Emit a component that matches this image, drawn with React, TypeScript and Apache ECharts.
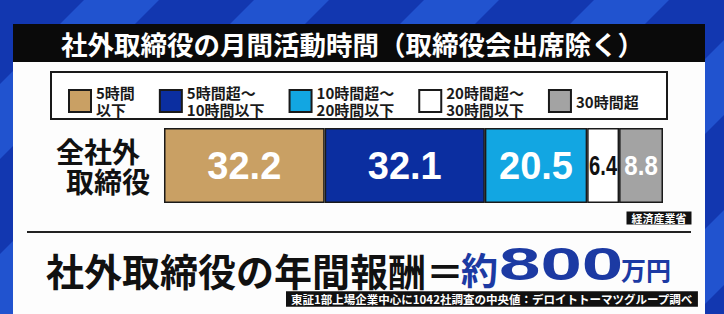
import React, { useEffect, useRef } from 'react';
import * as echarts from 'echarts';

const categories = ['全社外\n取締役'];
const seriesNames = [
  '5時間\n以下',
  '5時間超～\n10時間以下',
  '10時間超～\n20時間以下',
  '20時間超～\n30時間以下',
  '30時間超',
];
const values = [32.2, 32.1, 20.5, 6.4, 8.8];
const narrowIdx = [3, 4];

const title = '社外取締役の月間活動時間（取締役会出席除く）';
const source = '経済産業省';
const headline = '社外取締役の年間報酬＝';
const headlineBlue = '約';
const amount = '800';
const unit = '万円';
const footnote = '東証1部上場企業中心に1042社調査の中央値：デロイトトーマツグループ調べ';

const colors = ['#c9a064', '#0b2ea0', '#12a6e2', '#ffffff', '#a3a3a3'];
const labelColors = ['#ffffff', '#ffffff', '#ffffff', '#111111', '#ffffff'];
const narrowScale = [0, 0, 0, 0.72, 0.86];
const CJK = '"Noto Sans CJK JP", "Noto Sans", sans-serif';
const LAT = '"Liberation Sans", Arial, sans-serif';

export default function App() {
  const ref = useRef<HTMLDivElement>(null);
  useEffect(() => {
    if (!ref.current) return;
    const chart = echarts.init(ref.current, undefined, { renderer: 'svg' });

    const starts: number[] = [];
    let acc = 0;
    values.forEach((v) => {
      starts.push(acc);
      acc += v;
    });

    const stripes: any[] = [];
    for (let x0 = -400; x0 < 760; x0 += 170) {
      stripes.push({
        type: 'polygon',
        z: -20,
        shape: { points: [[x0, 314], [x0 + 75, 314], [x0 + 75 + 314, 0], [x0 + 314, 0]] },
        style: { fill: '#2153cf' },
        silent: true,
      });
    }

    const barSeries = values.map((v, i) => ({
      type: 'bar',
      name: seriesNames[i],
      stack: 'total',
      data: [v],
      barWidth: 75,
      itemStyle: { color: colors[i], borderColor: '#1a1a1a', borderWidth: 1.5 },
      label: {
        show: !narrowIdx.includes(i),
        position: 'inside',
        formatter: () => v.toFixed(1),
        color: labelColors[i],
        fontSize: 38,
        fontWeight: 'bold',
        fontFamily: LAT,
      },
      emphasis: { disabled: true },
    }));

    const customSeries = {
      type: 'custom',
      coordinateSystem: 'cartesian2d',
      silent: true,
      z: 10,
      data: narrowIdx.map((i) => [starts[i] + values[i] / 2, 0, i]),
      renderItem: (_params: any, api: any) => {
        const idx = api.value(2);
        const p = api.coord([api.value(0), 0]);
        return {
          type: 'text',
          x: p[0],
          y: p[1],
          scaleX: narrowScale[idx],
          style: {
            text: values[idx].toFixed(1),
            fill: labelColors[idx],
            fontSize: 28,
            fontWeight: 'bold',
            fontFamily: LAT,
            align: 'center',
            verticalAlign: 'middle',
          },
        };
      },
    };

    const option: any = {
      animation: false,
      backgroundColor: '#1237b0',
      grid: { left: 164, right: 61, top: 128, height: 75, containLabel: false, outerBoundsMode: 'none' },
      xAxis: { type: 'value', min: 0, max: 100, show: false },
      yAxis: {
        type: 'category',
        data: categories,
        axisLine: { show: false },
        axisTick: { show: false },
        splitLine: { show: false },
        axisLabel: {
          margin: 14,
          align: 'right',
          formatter: (v: string) => {
            const [a, b] = v.split('\n');
            return `{a|${a}}\n{b|${b}}`;
          },
          rich: {
            a: { fontSize: 28, fontWeight: 'bold', color: '#111', fontFamily: CJK, lineHeight: 30, padding: [0, 10, 0, 0] },
            b: { fontSize: 28, fontWeight: 'bold', color: '#111', fontFamily: CJK, lineHeight: 30 },
          },
        },
      },
      legend: {
        data: seriesNames,
        left: 63,
        top: 79,
        z: 5,
        itemWidth: 22,
        itemHeight: 22,
        itemGap: 24,
        icon: 'rect',
        selectedMode: false,
        itemStyle: { borderColor: '#1a1a1a', borderWidth: 2 },
        textStyle: { fontSize: 15, fontWeight: 'bold', color: '#1a1a1a', fontFamily: CJK, lineHeight: 17 },
      },
      graphic: [
        ...stripes,
        { type: 'rect', z: -10, shape: { x: 13, y: 24, width: 692, height: 290 }, style: { fill: '#fdfdfd' }, silent: true },
        { type: 'rect', z: -9, shape: { x: 13, y: 24, width: 692, height: 38 }, style: { fill: '#0a0a0a' }, silent: true },
        {
          type: 'text', z: -8, x: 61, y: 43,
          style: { text: title, fill: '#ffffff', fontSize: 26.5, fontWeight: 'bold', fontFamily: CJK, align: 'left', verticalAlign: 'middle' },
        },
        { type: 'rect', z: -8, shape: { x: 51, y: 72, width: 616, height: 47 }, style: { fill: '#ffffff', stroke: '#1a1a1a', lineWidth: 2 }, silent: true },
        {
          type: 'text', z: 1, x: 659, y: 218,
          style: { text: source, fill: '#ffffff', fontSize: 11, fontWeight: 'bold', fontFamily: CJK, align: 'center', verticalAlign: 'middle', backgroundColor: '#111111', padding: [1, 5] },
        },
        { type: 'line', z: 1, shape: { x1: 27, y1: 232, x2: 691, y2: 232 }, style: { stroke: '#222222', lineWidth: 2 } },
        {
          type: 'text', z: 1, x: 46, y: 269,
          style: { text: headline, fill: '#111111', fontSize: 38, fontWeight: 'bold', fontFamily: CJK, align: 'left', verticalAlign: 'middle' },
        },
        {
          type: 'text', z: 1, x: 461, y: 269,
          style: { text: headlineBlue, fill: '#1c3aa3', fontSize: 37, fontWeight: 'bold', fontFamily: CJK, align: 'left', verticalAlign: 'middle' },
        },
        {
          type: 'text', z: 1, x: 499, y: 264, scaleX: 1.62,
          style: { text: amount, fill: '#1c3aa3', fontSize: 46, fontWeight: 'bold', fontFamily: LAT, align: 'left', verticalAlign: 'middle' },
        },
        {
          type: 'text', z: 1, x: 621, y: 269,
          style: { text: unit, fill: '#1c3aa3', fontSize: 25, fontWeight: 'bold', fontFamily: CJK, align: 'left', verticalAlign: 'middle' },
        },
        {
          type: 'text', z: 1, x: 286, y: 299,
          style: { text: footnote, fill: '#ffffff', fontSize: 11.5, fontWeight: 'bold', fontFamily: CJK, align: 'left', verticalAlign: 'middle', backgroundColor: '#111111', padding: [2, 5] },
        },
      ],
      series: [...barSeries, customSeries],
    };

    chart.setOption(option);
    return () => chart.dispose();
  }, []);

  return (
    <div
      ref={ref}
      style={{ position: 'fixed', left: 0, top: 0, width: 724, height: 314 }}
    />
  );
}
